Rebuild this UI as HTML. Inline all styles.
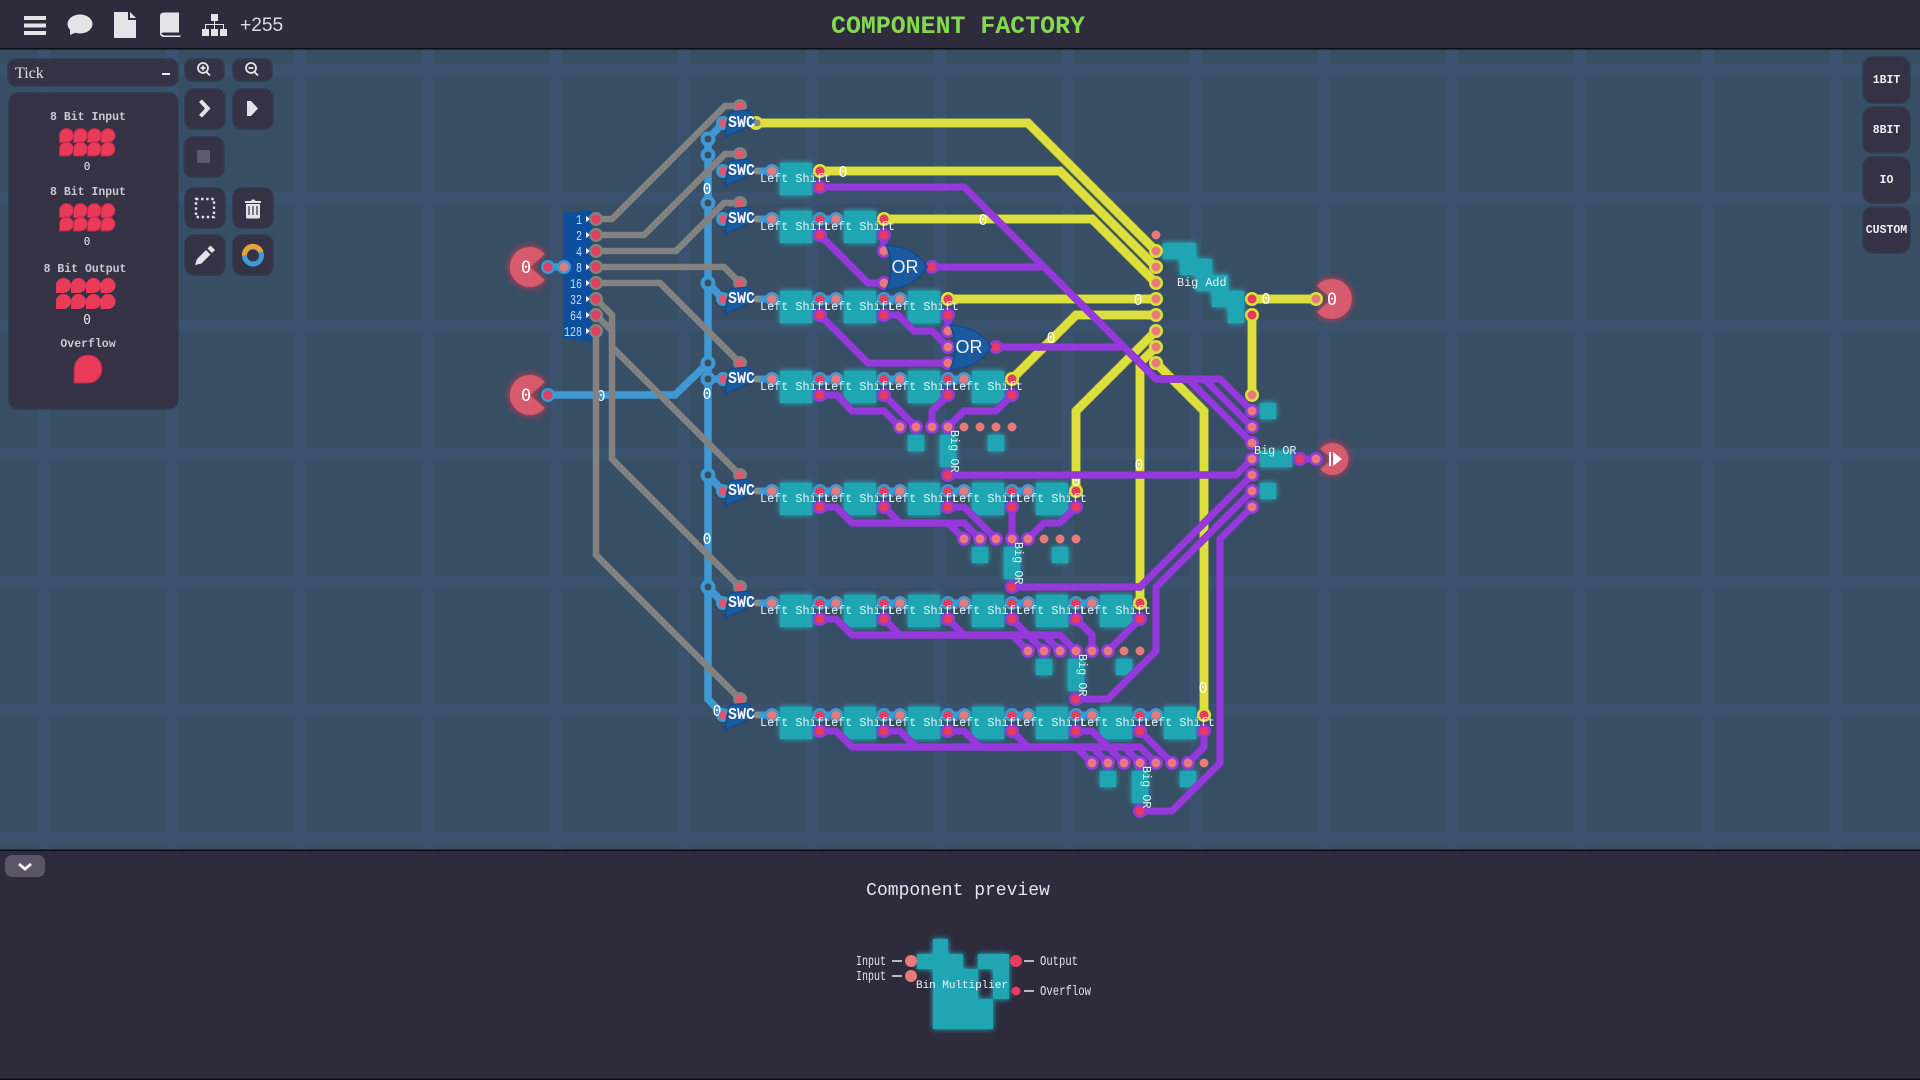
<!DOCTYPE html>
<html><head><meta charset="utf-8"><title>Component Factory</title>
<style>
html,body{margin:0;padding:0;background:#2d2b3c;width:1920px;height:1080px;overflow:hidden}
svg{display:block}
.m{font-family:"Liberation Mono",monospace}
.z{font-family:"DejaVu Sans Mono",monospace;font-size:15px;fill:#fff;text-anchor:middle}
.ls{font-family:"Liberation Mono",monospace;font-size:11.8px;fill:#e6f2f2}
.sw{font-family:"Liberation Mono",monospace;font-weight:bold;font-size:17px;fill:#f2f6fa}
.p{font-family:"Liberation Mono",monospace;font-size:11.5px;fill:#c9c9d2;text-anchor:middle;font-weight:bold}
.d{font-family:"Liberation Mono",monospace;font-size:14px;fill:#bcd9f6;text-anchor:end}
.r{font-family:"Liberation Mono",monospace;font-size:11.5px;font-weight:bold;fill:#f0f0f2;text-anchor:middle}
.o{font-family:"Liberation Sans",sans-serif;font-size:18px;fill:#eef2f8;text-anchor:middle}
.g{font-family:"Liberation Mono",monospace;font-size:14px;fill:#e2e2e6}
</style></head><body>
<svg width="1920" height="1080" viewBox="0 0 1920 1080" xmlns="http://www.w3.org/2000/svg">
<defs>
<path id="b" d="M0 7a7 7 0 1 1 7 7H0z" fill="#e93a5a" stroke="#b52a48"/>
<path id="b2" d="M0 7.5a7.5 7.5 0 1 1 7.5 7.5H0z" fill="#e93a5a"/>
<path id="sg" d="M730 -10L748 -12L757 1L725 15L727 1z" fill="#1a5a9e" stroke="#14498c" stroke-width="1.5" stroke-linejoin="round"/>
<path id="orgate" d="M0 -22Q30 -20 41 0Q30 20 0 23Q10 0 0 -22z" fill="#1a5a9e" stroke="#14498c" stroke-width="1.5"/>
<g id="yw" fill="none" stroke-linejoin="miter">
<path d="M756 123H1028L1156 251"/>
<path d="M820 171H1060L1156 267"/>
<path d="M884 219H1092L1156 283"/>
<path d="M948 299H1156"/>
<path d="M1012 379L1076 315H1156"/>
<path d="M1076 491V411L1156 331"/>
<path d="M1140 603V363L1156 347"/>
<path d="M1204 715V411L1156 363"/>
<path d="M1252 299H1316"/>
<path d="M1252 315V395"/>
</g>
<g id="pw" fill="none" stroke-linejoin="miter">
<path d="M820 187H964L1156 379H1220L1252 411"/>
<path d="M932 267H1044L1156 379H1204L1252 427"/>
<path d="M996 347H1124L1156 379H1188L1252 443"/>
<path d="M948 475H1236L1252 459"/>
<path d="M1012 587H1140L1252 475"/>
<path d="M1076 699H1108L1156 651V587L1252 491"/>
<path d="M1140 811H1172L1220 763V539L1252 507"/>
<path d="M1300 459H1316"/>
<path d="M884 235V251"/>
<path d="M820 235L868 283H884"/>
<path d="M948 315V331"/>
<path d="M884 315H898L914 331H932L948 347"/>
<path d="M820 315L868 363H948"/>
<path d="M820 395H837L852 411H884L900 427"/>
<path d="M884 395L916 427"/>
<path d="M948 395L932 411V427"/>
<path d="M1012 395L996 411H964L948 427"/>
<path d="M820 507H836L852 523H948L964 539"/>
<path d="M884 507L900 523H964L980 539"/>
<path d="M948 507H964L996 539"/>
<path d="M1012 507V539"/>
<path d="M1076 507L1060 523H1044L1028 539"/>
<path d="M820 619H836L852 635H1012L1028 651"/>
<path d="M884 619L900 635H1028L1044 651"/>
<path d="M948 619L964 635H1044L1060 651"/>
<path d="M1012 619L1028 635H1060L1076 651"/>
<path d="M1076 619L1092 635V651"/>
<path d="M1140 619L1108 651"/>
<path d="M820 731H836L852 747H1076L1092 763"/>
<path d="M884 731H900L916 747H1092L1108 763"/>
<path d="M948 731H964L980 747H1108L1124 763"/>
<path d="M1012 731L1028 747H1124L1140 763"/>
<path d="M1076 731H1092L1108 747H1140L1156 763"/>
<path d="M1140 731L1172 763"/>
<path d="M1204 731V747L1188 763"/>
</g>
</defs>

<!-- canvas -->
<rect x="0" y="48" width="1920" height="802" fill="#384e64"/>
<path d="M44 48V850M172 48V850M300 48V850M428 48V850M556 48V850M684 48V850M812 48V850M940 48V850M1068 48V850M1196 48V850M1324 48V850M1452 48V850M1580 48V850M1708 48V850M1836 48V850M0 70H1920M0 198H1920M0 326H1920M0 454H1920M0 582H1920M0 710H1920M0 838H1920" stroke="#3a526d" stroke-width="12" fill="none"/>

<!-- teal blocks -->
<g fill="#1fa6b2" style="filter:drop-shadow(0 0 3px #22c4d4)">
<path d="M780 163h32v32h-32zM780 211h32v32h-32zM844 211h32v32h-32zM780 291h32v32h-32zM844 291h32v32h-32zM908 291h32v32h-32zM780 371h32v32h-32zM844 371h32v32h-32zM908 371h32v32h-32zM972 371h32v32h-32zM780 483h32v32h-32zM844 483h32v32h-32zM908 483h32v32h-32zM972 483h32v32h-32zM1036 483h32v32h-32zM780 595h32v32h-32zM844 595h32v32h-32zM908 595h32v32h-32zM972 595h32v32h-32zM1036 595h32v32h-32zM1100 595h32v32h-32zM780 707h32v32h-32zM844 707h32v32h-32zM908 707h32v32h-32zM972 707h32v32h-32zM1036 707h32v32h-32zM1100 707h32v32h-32zM1164 707h32v32h-32z"/>
<path d="M908 435h16v16h-16zM940 435h16v32h-16zM988 435h16v16h-16zM972 547h16v16h-16zM1004 547h16v32h-16zM1052 547h16v16h-16zM1036 659h16v16h-16zM1068 659h16v32h-16zM1116 659h16v16h-16zM1100 771h16v16h-16zM1132 771h16v32h-16zM1180 771h16v16h-16z"/>
<path d="M1163 243H1196V259H1212V275H1228V291H1244V323H1228V307H1212V291H1196V275H1180V259H1163z"/>
<path d="M1260 403h16v16h-16zM1260 451h32v16h-32zM1260 483h16v16h-16z"/>
</g>

<!-- decoder -->
<path d="M563 213L592 210V342L563 338z" fill="#0b4f9e"/>
<text class="d" x="582" y="224" textLength="6" lengthAdjust="spacingAndGlyphs">1</text><text class="d" x="582" y="240" textLength="6" lengthAdjust="spacingAndGlyphs">2</text><text class="d" x="582" y="256" textLength="6" lengthAdjust="spacingAndGlyphs">4</text><text class="d" x="582" y="272" textLength="6" lengthAdjust="spacingAndGlyphs">8</text><text class="d" x="582" y="288" textLength="12" lengthAdjust="spacingAndGlyphs">16</text><text class="d" x="582" y="304" textLength="12" lengthAdjust="spacingAndGlyphs">32</text><text class="d" x="582" y="320" textLength="12" lengthAdjust="spacingAndGlyphs">64</text><text class="d" x="582" y="336" textLength="18" lengthAdjust="spacingAndGlyphs">128</text>
<path d="M586 216l4 3l-4 3zM586 232l4 3l-4 3zM586 248l4 3l-4 3zM586 264l4 3l-4 3zM586 280l4 3l-4 3zM586 296l4 3l-4 3zM586 312l4 3l-4 3zM586 328l4 3l-4 3z" fill="#fff"/>

<!-- pacman nodes -->
<g fill="#d75b6e" style="filter:drop-shadow(0 0 4px #e8364e)">
<path d="M530 267L545 254A20 20 0 1 0 545 280z"/>
<path d="M530 395L545 382A20 20 0 1 0 545 408z"/>
<path d="M1332 299L1316.7 286A20 20 0 1 1 1316.7 312z"/>
<path d="M1333 459L1320 449A16 16 0 1 1 1320 469z"/>
</g>

<!-- wires: blue -->
<g fill="none" stroke="#3d98d4">
<path stroke-width="7.5" d="M548 267H564M548 395H675L708 363M708 139V699L723 715M708 139L723 123M708 283L723 299M708 475L723 491M708 587L723 603M708 379H723"/>
<path stroke-width="7" d="M756 171H772M756 219H772M820 219H836M756 299H772M820 299H836M884 299H900M756 379H772M820 379H836M884 379H900M948 379H964M756 491H772M820 491H836M884 491H900M948 491H964M1012 491H1028M756 603H772M820 603H836M884 603H900M948 603H964M1012 603H1028M1076 603H1092M756 715H772M820 715H836M884 715H900M948 715H964M1012 715H1028M1076 715H1092M1140 715H1156"/>
<path stroke-width="14" stroke-linecap="round" d="M548 267h0M564 267h0M548 395h0M723 123h0M723 171h0M723 219h0M723 299h0M723 379h0M723 491h0M723 603h0M723 715h0M772 171h0M772 219h0M772 299h0M772 379h0M772 491h0M772 603h0M772 715h0M820 219h0M836 219h0M820 299h0M836 299h0M884 299h0M900 299h0M820 379h0M836 379h0M884 379h0M900 379h0M948 379h0M964 379h0M820 491h0M836 491h0M884 491h0M900 491h0M948 491h0M964 491h0M1012 491h0M1028 491h0M820 603h0M836 603h0M884 603h0M900 603h0M948 603h0M964 603h0M1012 603h0M1028 603h0M1076 603h0M1092 603h0M820 715h0M836 715h0M884 715h0M900 715h0M948 715h0M964 715h0M1012 715h0M1028 715h0M1076 715h0M1092 715h0M1140 715h0M1156 715h0"/>
</g>
<text class="z" x="707" y="194">0</text><text class="z" x="707" y="399">0</text><text class="z" x="707" y="544">0</text><text class="z" x="601" y="401">0</text><text class="z" x="717" y="716">0</text>
<g fill="#384e64" stroke="#3d98d4" stroke-width="4"><circle cx="708" cy="139" r="5.5"/><circle cx="708" cy="155" r="5.5"/><circle cx="708" cy="203" r="5.5"/><circle cx="708" cy="283" r="5.5"/><circle cx="708" cy="363" r="5.5"/><circle cx="708" cy="379" r="5.5"/><circle cx="708" cy="475" r="5.5"/><circle cx="708" cy="587" r="5.5"/></g>

<!-- wires: gray -->
<g fill="none" stroke="#828282" stroke-width="6.5">
<path d="M596 219H612L725 106H740"/><path d="M596 235H644L725 154H740"/><path d="M596 251H676L724 203H740"/><path d="M596 267H724L740 283"/><path d="M596 283H660L740 363"/><path d="M596 299L612 315V347L740 475"/><path d="M596 315L612 331V459L740 587"/><path d="M596 331V555L740 699"/>
<path stroke-width="14" stroke-linecap="round" d="M596 219h0M596 235h0M596 251h0M596 267h0M596 283h0M596 299h0M596 315h0M596 331h0M740 106h0M740 154h0M740 203h0M740 283h0M740 363h0M740 475h0M740 587h0M740 699h0"/>
</g>

<!-- wires: yellow -->
<use href="#yw" stroke="#6c7246" stroke-width="10"/>
<use href="#yw" stroke="#dde03c" stroke-width="8.5"/>
<path fill="none" stroke="#dde03c" stroke-width="14" stroke-linecap="round" d="M756 123h0M820 171h0M884 219h0M948 299h0M1012 379h0M1076 491h0M1140 603h0M1204 715h0M1156 251h0M1156 267h0M1156 283h0M1156 299h0M1156 315h0M1156 331h0M1156 347h0M1156 363h0M1252 299h0M1252 315h0M1316 299h0M1252 395h0"/>
<text class="z" x="843" y="177">0</text><text class="z" x="983" y="225">0</text><text class="z" x="1138" y="305">0</text><text class="z" x="1051" y="343">0</text><text class="z" x="1076" y="486">0</text><text class="z" x="1139" y="470">0</text><text class="z" x="1203" y="693">0</text><text class="z" x="1266" y="304">0</text>

<!-- wires: purple -->
<use href="#pw" stroke="#7a3ab4" stroke-width="7.5"/>
<use href="#pw" stroke="#9639dc" stroke-width="6.5"/>
<path fill="none" stroke="#9639dc" stroke-width="14" stroke-linecap="round" d="M820 187h0M820 235h0M884 235h0M884 251h0M884 283h0M932 267h0M820 315h0M884 315h0M948 315h0M948 331h0M948 347h0M948 363h0M996 347h0M820 395h0M884 395h0M948 395h0M1012 395h0M900 427h0M916 427h0M932 427h0M948 427h0M948 475h0M820 507h0M884 507h0M948 507h0M1012 507h0M1076 507h0M964 539h0M980 539h0M996 539h0M1012 539h0M1028 539h0M1012 587h0M820 619h0M884 619h0M948 619h0M1012 619h0M1076 619h0M1140 619h0M1028 651h0M1044 651h0M1060 651h0M1076 651h0M1092 651h0M1108 651h0M1076 699h0M820 731h0M884 731h0M948 731h0M1012 731h0M1076 731h0M1140 731h0M1204 731h0M1092 763h0M1108 763h0M1124 763h0M1140 763h0M1156 763h0M1172 763h0M1188 763h0M1140 811h0M1252 411h0M1252 427h0M1252 443h0M1252 459h0M1252 475h0M1252 491h0M1252 507h0M1300 459h0M1316 459h0"/>

<!-- pins -->
<path fill="none" stroke="#e87a7a" stroke-width="9" stroke-linecap="round" d="M564 267h0M772 171h0M772 219h0M772 299h0M772 379h0M772 491h0M772 603h0M772 715h0M836 219h0M836 299h0M900 299h0M836 379h0M900 379h0M964 379h0M836 491h0M900 491h0M964 491h0M1028 491h0M836 603h0M900 603h0M964 603h0M1028 603h0M1092 603h0M836 715h0M900 715h0M964 715h0M1028 715h0M1092 715h0M1156 715h0M884 251h0M884 283h0M948 331h0M948 347h0M948 363h0M900 427h0M916 427h0M932 427h0M948 427h0M964 427h0M980 427h0M996 427h0M1012 427h0M964 539h0M980 539h0M996 539h0M1012 539h0M1028 539h0M1044 539h0M1060 539h0M1076 539h0M1028 651h0M1044 651h0M1060 651h0M1076 651h0M1092 651h0M1108 651h0M1124 651h0M1140 651h0M1092 763h0M1108 763h0M1124 763h0M1140 763h0M1156 763h0M1172 763h0M1188 763h0M1204 763h0M1156 235h0M1156 251h0M1156 267h0M1156 283h0M1156 299h0M1156 315h0M1156 331h0M1156 347h0M1156 363h0M1252 395h0M1252 411h0M1252 427h0M1252 443h0M1252 459h0M1252 475h0M1252 491h0M1252 507h0M1316 299h0M1316 459h0"/>
<path fill="none" stroke="#e0566e" stroke-width="8.5" stroke-linecap="round" d="M723 123h0M723 171h0M723 219h0M723 299h0M723 379h0M723 491h0M723 603h0M723 715h0M740 106h0M740 154h0M740 203h0M740 283h0M740 363h0M740 475h0M740 587h0M740 699h0"/>
<path fill="none" stroke="#e83a5c" stroke-width="9" stroke-linecap="round" d="M548 267h0M548 395h0M596 219h0M596 235h0M596 251h0M596 267h0M596 283h0M596 299h0M596 315h0M596 331h0M820 171h0M820 187h0M820 219h0M820 235h0M884 219h0M884 235h0M932 267h0M820 299h0M820 315h0M884 299h0M884 315h0M948 299h0M948 315h0M996 347h0M820 379h0M820 395h0M884 379h0M884 395h0M948 379h0M948 395h0M1012 379h0M1012 395h0M948 475h0M820 491h0M820 507h0M884 491h0M884 507h0M948 491h0M948 507h0M1012 491h0M1012 507h0M1076 491h0M1076 507h0M1012 587h0M820 603h0M820 619h0M884 603h0M884 619h0M948 603h0M948 619h0M1012 603h0M1012 619h0M1076 603h0M1076 619h0M1140 603h0M1140 619h0M1076 699h0M820 715h0M820 731h0M884 715h0M884 731h0M948 715h0M948 731h0M1012 715h0M1012 731h0M1076 715h0M1076 731h0M1140 715h0M1140 731h0M1204 715h0M1204 731h0M1140 811h0M1252 299h0M1252 315h0M1300 459h0"/>

<!-- gates -->
<use href="#sg" y="122"/><use href="#sg" y="171"/><use href="#sg" y="219"/><use href="#sg" y="299"/><use href="#sg" y="379"/><use href="#sg" y="491"/><use href="#sg" y="603"/><use href="#sg" y="715"/>
<path fill="none" stroke="#8a8a84" stroke-width="7" stroke-linecap="round" d="M757 123h0M757 171h0M757 219h0M757 299h0M757 379h0M757 491h0M757 603h0M757 715h0"/>
<text class="sw" x="728" y="127" textLength="27" lengthAdjust="spacingAndGlyphs">SWC</text><text class="sw" x="728" y="175" textLength="27" lengthAdjust="spacingAndGlyphs">SWC</text><text class="sw" x="728" y="223" textLength="27" lengthAdjust="spacingAndGlyphs">SWC</text><text class="sw" x="728" y="303" textLength="27" lengthAdjust="spacingAndGlyphs">SWC</text><text class="sw" x="728" y="383" textLength="27" lengthAdjust="spacingAndGlyphs">SWC</text><text class="sw" x="728" y="495" textLength="27" lengthAdjust="spacingAndGlyphs">SWC</text><text class="sw" x="728" y="607" textLength="27" lengthAdjust="spacingAndGlyphs">SWC</text><text class="sw" x="728" y="719" textLength="27" lengthAdjust="spacingAndGlyphs">SWC</text>
<use href="#orgate" x="886" y="267"/><use href="#orgate" x="950" y="347"/>
<text class="o" x="905" y="273">OR</text><text class="o" x="969" y="353">OR</text>

<!-- labels -->
<text class="ls" x="760" y="182">Left Shift</text>
<text class="ls" x="760" y="230">Left Shift</text><text class="ls" x="824" y="230">Left Shift</text>
<text class="ls" x="760" y="310">Left Shift</text><text class="ls" x="824" y="310">Left Shift</text><text class="ls" x="888" y="310">Left Shift</text>
<text class="ls" x="760" y="390">Left Shift</text><text class="ls" x="824" y="390">Left Shift</text><text class="ls" x="888" y="390">Left Shift</text><text class="ls" x="952" y="390">Left Shift</text>
<text class="ls" x="760" y="502">Left Shift</text><text class="ls" x="824" y="502">Left Shift</text><text class="ls" x="888" y="502">Left Shift</text><text class="ls" x="952" y="502">Left Shift</text><text class="ls" x="1016" y="502">Left Shift</text>
<text class="ls" x="760" y="614">Left Shift</text><text class="ls" x="824" y="614">Left Shift</text><text class="ls" x="888" y="614">Left Shift</text><text class="ls" x="952" y="614">Left Shift</text><text class="ls" x="1016" y="614">Left Shift</text><text class="ls" x="1080" y="614">Left Shift</text>
<text class="ls" x="760" y="726">Left Shift</text><text class="ls" x="824" y="726">Left Shift</text><text class="ls" x="888" y="726">Left Shift</text><text class="ls" x="952" y="726">Left Shift</text><text class="ls" x="1016" y="726">Left Shift</text><text class="ls" x="1080" y="726">Left Shift</text><text class="ls" x="1144" y="726">Left Shift</text>
<text class="ls" transform="translate(951 430) rotate(90)">Big OR</text>
<text class="ls" transform="translate(1015 542) rotate(90)">Big OR</text>
<text class="ls" transform="translate(1079 654) rotate(90)">Big OR</text>
<text class="ls" transform="translate(1143 766) rotate(90)">Big OR</text>
<text class="ls" x="1177" y="286">Big Add</text>
<text class="ls" x="1254" y="454">Big OR</text>
<text class="z" x="526" y="273" style="font-size:17px">0</text><text class="z" x="526" y="401" style="font-size:17px">0</text><text class="z" x="1332" y="305" style="font-size:17px">0</text>
<path d="M1329 452h2v14h-2zM1333 452l9 7l-9 7z" fill="#fff"/>

<!-- top bar -->
<rect x="0" y="0" width="1920" height="48" fill="#2d2b3c"/>
<rect x="0" y="48" width="1920" height="1.5" fill="#0c0c12"/>
<g fill="#e4e4e8">
<path d="M24 16h22v4h-22zM24 23.5h22v4h-22zM24 31h22v4h-22z"/>
<ellipse cx="80" cy="24" rx="12.5" ry="9.5"/><path d="M70 29l0 6l7-3z"/>
<path d="M114 12h14v8h8v18h-22zM130 12l6 6h-6z"/>
<path d="M160 16q0-3.500 4-3.500h15v20h-15q-4 0-4 4z"/><path d="M160 34q1 3 4 3h16.500v-1.500h-15q-3 0-3.500-1.500z" />
<path d="M211 14h7v7h-7zM202 29h7v7h-7zM211 29h7v7h-7zM220 29h7v7h-7z"/><path d="M214 21h1v3h9v5h-1v-4h-8v4h-1v-4h-8v4h-1v-5h9z"/>
</g>
<text x="240" y="31" style="font-family:'Liberation Sans',sans-serif;font-size:19.2px;fill:#dcdce0">+255</text>
<text x="958" y="33" class="m" style="font-size:24.9px;font-weight:bold;fill:#85d94e;text-anchor:middle">COMPONENT FACTORY</text>

<!-- left panel -->
<g fill="#353245" stroke="#2f3b52" stroke-width="1.500">
<rect x="8" y="59" width="170" height="27" rx="8"/>
<rect x="9" y="93" width="169" height="316" rx="9"/>
<rect x="185" y="59" width="39" height="22" rx="7"/><rect x="233" y="59" width="39" height="22" rx="7"/>
<rect x="185" y="89" width="40" height="40" rx="9"/><rect x="233" y="89" width="40" height="40" rx="9"/>
<rect x="184" y="137" width="40" height="40" rx="9"/>
<rect x="185" y="188" width="40" height="40" rx="9"/><rect x="233" y="188" width="40" height="40" rx="9"/>
<rect x="185" y="235" width="40" height="40" rx="9"/><rect x="233" y="235" width="40" height="40" rx="9"/>
<rect x="1863" y="57" width="47" height="46" rx="10"/><rect x="1863" y="107" width="47" height="46" rx="10"/><rect x="1863" y="157" width="47" height="46" rx="10"/><rect x="1863" y="207" width="47" height="46" rx="10"/>
</g>
<text x="15" y="78" style="font-family:'Liberation Serif',serif;font-size:16px;fill:#e2e2e6">Tick</text>
<rect x="162" y="73" width="8" height="2" fill="#f0f0f0"/>
<text class="p" x="88" y="120">8 Bit Input</text><text class="p" x="88" y="195">8 Bit Input</text><text class="p" x="85" y="272">8 Bit Output</text><text class="p" x="88" y="347">Overflow</text>
<g><use href="#b" x="59.500" y="128.500"/><use href="#b" x="73.500" y="128.500"/><use href="#b" x="87.500" y="128.500"/><use href="#b" x="101" y="128.500"/><use href="#b" x="59.500" y="142"/><use href="#b" x="73.500" y="142"/><use href="#b" x="87.500" y="142"/><use href="#b" x="101" y="142"/>
<use href="#b" x="59.500" y="203.500"/><use href="#b" x="73.500" y="203.500"/><use href="#b" x="87.500" y="203.500"/><use href="#b" x="101" y="203.500"/><use href="#b" x="59.500" y="217"/><use href="#b" x="73.500" y="217"/><use href="#b" x="87.500" y="217"/><use href="#b" x="101" y="217"/>
<use href="#b2" x="56" y="278"/><use href="#b2" x="71" y="278"/><use href="#b2" x="86" y="278"/><use href="#b2" x="100.500" y="278"/><use href="#b2" x="56" y="294"/><use href="#b2" x="71" y="294"/><use href="#b2" x="86" y="294"/><use href="#b2" x="100.500" y="294"/></g>
<path d="M74 369a14 14 0 1 1 14 14H74z" fill="#e93a5a" stroke="#b52a48"/>
<text x="87" y="170" style="font-family:'DejaVu Sans Mono',monospace;font-size:11px;fill:#e6e6ea;text-anchor:middle">0</text>
<text x="87" y="245" style="font-family:'DejaVu Sans Mono',monospace;font-size:11px;fill:#e6e6ea;text-anchor:middle">0</text>
<text x="87" y="324" style="font-family:'DejaVu Sans Mono',monospace;font-size:13px;fill:#e6e6ea;text-anchor:middle">0</text>
<!-- button icons -->
<g fill="none" stroke="#e4e4e8" stroke-width="1.800">
<circle cx="203" cy="68" r="5"/><path d="M206.500 72l3.500 3.500M200.500 68h5M203 65.500v5"/>
<circle cx="251" cy="68" r="5"/><path d="M254.500 72l3.500 3.500M248.500 68h5"/>
</g>
<path d="M199 102l6 6.500l-6 6.500l3 2.500l8.500-9l-8.500-9z" fill="#e4e4e8"/>
<path d="M247 101h4l7 7.500l-7 7.500h-4z" fill="#e4e4e8"/>
<rect x="197" y="150" width="13" height="13" rx="1.500" fill="#5e5a6c"/>
<rect x="196" y="199" width="18" height="18" fill="none" stroke="#e4e4e8" stroke-width="2.400" stroke-dasharray="2.400 2.700"/>
<path d="M246 204h14v13q0 1.500-1.500 1.500h-11q-1.500 0-1.500-1.500zM245 201h6l1-1.500h2.500l1 1.500h5.500v2h-16z" fill="#e4e4e8"/>
<path d="M249 206v9M253 206v9M257 206v9" stroke="#353245" stroke-width="1.200"/>
<path d="M195 265l2-6l9-9l4.500 4.500l-9 9zM207.500 248.500l3-3l4.500 4.500l-3 3z" fill="#e4e4e8"/>
<circle cx="253" cy="255.500" r="8.500" fill="none" stroke="#3d9ad8" stroke-width="5"/>
<path d="M244.500 255.500A8.500 8.500 0 0 1 261 252" fill="none" stroke="#e6a23c" stroke-width="5"/>
<text class="r" x="1886.500" y="83">1BIT</text><text class="r" x="1886.500" y="133">8BIT</text><text class="r" x="1886.500" y="183">IO</text><text class="r" x="1886.500" y="233">CUSTOM</text>

<!-- bottom panel -->
<rect x="0" y="850" width="1920" height="230" fill="#2d2b3c"/>
<rect x="0" y="849.500" width="1920" height="1.500" fill="#0c0c12"/>
<rect x="0" y="1078.500" width="1920" height="1.500" fill="#0c0c12"/>
<rect x="5" y="855" width="40" height="22" rx="7" fill="#5a5668"/>
<path d="M19 864l6 5l6-5" fill="none" stroke="#f2f2f2" stroke-width="2.800"/>
<text x="958" y="895" class="m" style="font-size:18px;fill:#e4e4e8;text-anchor:middle">Component preview</text>
<path d="M933 939H948V954H963V969H978V999H993V969H978V954H1009V999H993V1029H933V969H917V954H933z" fill="#1fa6b2" style="filter:drop-shadow(0 0 3px #22c4d4)"/>
<text x="916" y="988" class="m" style="font-size:11px;fill:#eaf6f6" textLength="92">Bin Multiplier</text>
<circle cx="911" cy="961" r="6" fill="#e87a7a"/><circle cx="911" cy="976" r="6" fill="#e87a7a"/>
<circle cx="1016" cy="961" r="6" fill="#e83a5c"/><circle cx="1016" cy="991" r="4.500" fill="#e83a5c"/>
<path d="M892 961h10M892 976h10M1024 961h10M1024 991h10" stroke="#e8e8ec" stroke-width="1.500"/>
<text class="g" x="856" y="965" textLength="30" lengthAdjust="spacingAndGlyphs">Input</text>
<text class="g" x="856" y="980" textLength="30" lengthAdjust="spacingAndGlyphs">Input</text>
<text class="g" x="1040" y="965" textLength="38" lengthAdjust="spacingAndGlyphs">Output</text>
<text class="g" x="1040" y="995" textLength="51" lengthAdjust="spacingAndGlyphs">Overflow</text>
</svg>
</body></html>
